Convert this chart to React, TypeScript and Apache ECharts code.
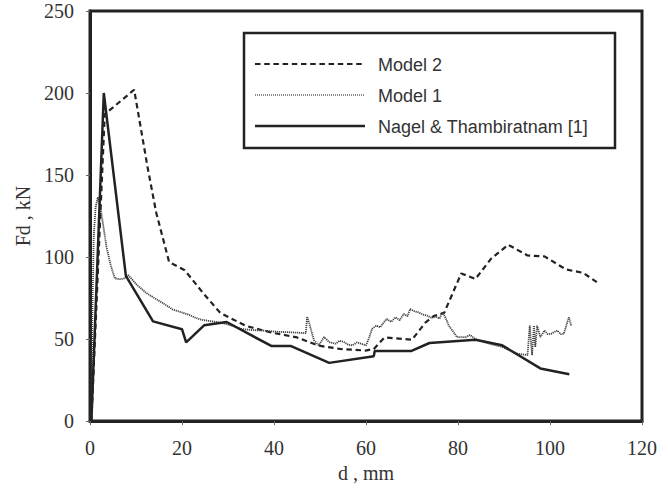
import React, { useEffect, useRef } from "react";
import * as echarts from "echarts";

const xTicks = [0, 20, 40, 60, 80, 100, 120];
const yTicks = [0, 50, 100, 150, 200, 250];

const legendNames = ["Model 2", "Model 1", "Nagel & Thambiratnam [1]"];

const model2D = [0.3, 3.2, 9.6, 12.5, 14.4, 17.2, 20.6, 24.6, 28.3, 33.9, 39.4, 45, 49.7, 54.3, 59.9, 61.7, 64, 70, 72.9, 74.7, 77, 80.7, 83.8, 87.2, 90.9, 95.1, 98.8, 103.5, 107.2, 110.7];
const model2F = [0, 187, 202, 155, 127, 97, 92, 78, 66, 58, 54, 51, 46, 44, 43, 44, 51, 49.6, 60, 64, 66, 90, 86.7, 99, 107.5, 101, 100.4, 92.4, 90.4, 83.7];

const model1D = [0.3, 0.5, 0.8, 1.2, 1.7, 2.4, 3.6, 4.5, 5.4, 6.5, 7.6, 8.3, 10.2, 12.3, 14.0, 15.8, 18.0, 19.9, 21.3, 22.7, 23.9, 25.5, 27.3, 29.2, 31.0, 32.9, 35.2, 37.6, 40.4, 43.2, 46.9, 47.2, 47.8, 48.7, 49.7, 50.9, 52.0, 53.4, 54.3, 55.2, 56.2, 57.1, 58.0, 58.9, 60.0, 60.6, 61.3, 62.2, 63.1, 63.8, 64.5, 65.5, 66.4, 67.3, 68.2, 69.0, 69.6, 70.5, 71.4, 72.3, 73.3, 74.2, 75.2, 76.0, 76.6, 77.3, 78.0, 79.8, 81.7, 82.6, 84.0, 86.8, 89.6, 92.8, 95.1, 95.6, 96.1, 96.5, 96.8, 97.2, 97.9, 98.8, 99.5, 100.2, 101.6, 102.3, 103.0, 104.1, 104.6];
const model1F = [0, 60, 112, 130, 136.5, 128, 106, 95, 87, 86.5, 87, 89, 83, 78, 75, 72, 68, 66.3, 65, 63.3, 62, 61.2, 60.5, 59.5, 58, 56.2, 55.5, 55.2, 54.5, 54.2, 53.6, 63.7, 58.2, 49.2, 46.2, 51.2, 48.2, 47.2, 49, 48.2, 46.5, 46.2, 48, 47.2, 46.2, 50.2, 56.2, 58.2, 57.2, 60, 62.2, 60.5, 63.3, 61.5, 65.3, 64, 68.3, 67, 66.3, 65, 64.3, 63, 63.7, 62.5, 66.3, 63, 58.2, 51.2, 51.2, 52.5, 49.6, 47.2, 45.2, 41.2, 40.2, 58.2, 40.2, 58.2, 45.2, 58.2, 51.2, 55.2, 53, 53.2, 55.2, 53, 53.2, 63.3, 58.2];

const nagelD = [0.3, 3.0, 7.8, 13.7, 20.0, 20.9, 24.8, 29.7, 39.4, 43.6, 52, 61.7, 61.9, 69.9, 73.8, 83.8, 89.6, 97.9, 104.2];
const nagelF = [0, 200, 88.5, 60.8, 56, 48, 58.4, 60.4, 45.8, 45.8, 35.5, 39.6, 42.8, 42.8, 47.6, 49.6, 46.2, 32.1, 28.5];

const zip = (a: number[], b: number[]) => a.map((v, i) => [v, b[i]]);

export default function App() {
  const ref = useRef<HTMLDivElement>(null);
  useEffect(() => {
    document.body.style.margin = "0";
    const chart = echarts.init(ref.current!, null, { renderer: "svg" });
    const serif = "Liberation Serif";
    const sans = "Liberation Sans";
    const ink = "#222";
    const grey = "#444";
    const legX1 = 255;
    const legX2 = 365;
    const rows = [64, 95, 126];
    const styles = [
      { stroke: ink, lineWidth: 2, lineDash: [5.5, 3.7] },
      { stroke: "#666", lineWidth: 1.6, lineDash: [1, 1] },
      { stroke: ink, lineWidth: 2.5 },
    ];
    const graphic: any[] = [
      {
        type: "rect",
        shape: { x: 244, y: 33, width: 371, height: 115 },
        style: { fill: "#fff", stroke: ink, lineWidth: 2.5 },
        z: 100,
      },
    ];
    legendNames.forEach((n, i) => {
      graphic.push({
        type: "line",
        shape: { x1: legX1, y1: rows[i], x2: legX2, y2: rows[i] },
        style: styles[i],
        z: 101,
      });
      graphic.push({
        type: "text",
        x: 378,
        y: rows[i] + 1,
        style: {
          text: n,
          fill: "#333",
          font: `18px "${sans}"`,
          verticalAlign: "middle",
        },
        z: 101,
      });
    });

    chart.setOption({
      animation: false,
      backgroundColor: "#fff",
      grid: {
        left: 90,
        right: 26,
        top: 11,
        bottom: 62,
        show: true,
        borderColor: ink,
        borderWidth: 3,
      },
      xAxis: {
        type: "value",
        min: xTicks[0],
        max: xTicks[xTicks.length - 1],
        interval: 20,
        name: "d , mm",
        nameLocation: "middle",
        nameGap: 41,
        nameTextStyle: { fontFamily: serif, fontSize: 20, color: "#333" },
        axisLine: { show: true, lineStyle: { color: ink, width: 3 } },
        axisTick: { show: true, length: 4, lineStyle: { color: "#666", width: 1 } },
        axisLabel: { fontFamily: serif, fontSize: 20, color: "#333", margin: 17 },
        splitLine: { show: false },
      },
      yAxis: {
        type: "value",
        min: yTicks[0],
        max: yTicks[yTicks.length - 1],
        interval: 50,
        name: "Fd , kN",
        nameLocation: "middle",
        nameGap: 56,
        nameTextStyle: { fontFamily: serif, fontSize: 20, color: "#333" },
        axisLine: { show: true, lineStyle: { color: ink, width: 3 } },
        axisTick: { show: true, length: 4, lineStyle: { color: "#666", width: 1 } },
        axisLabel: { fontFamily: serif, fontSize: 20, color: "#333", margin: 16 },
        splitLine: { show: false },
      },
      series: [
        {
          name: legendNames[0],
          type: "line",
          data: zip(model2D, model2F),
          showSymbol: false,
          symbol: "none",
          lineStyle: { color: ink, width: 2.2, type: [5.5, 3.7] },
          z: 2,
        },
        {
          name: legendNames[1],
          type: "line",
          data: zip(model1D, model1F),
          showSymbol: false,
          symbol: "none",
          lineStyle: { color: grey, width: 1.8, type: [1.2, 0.8] },
          z: 3,
        },
        {
          name: legendNames[2],
          type: "line",
          data: zip(nagelD, nagelF),
          showSymbol: false,
          symbol: "none",
          lineStyle: { color: ink, width: 2.5 },
          z: 4,
        },
      ],
      graphic,
    });
    return () => chart.dispose();
  }, []);
  return <div ref={ref} style={{ width: 668, height: 488 }} />;
}
